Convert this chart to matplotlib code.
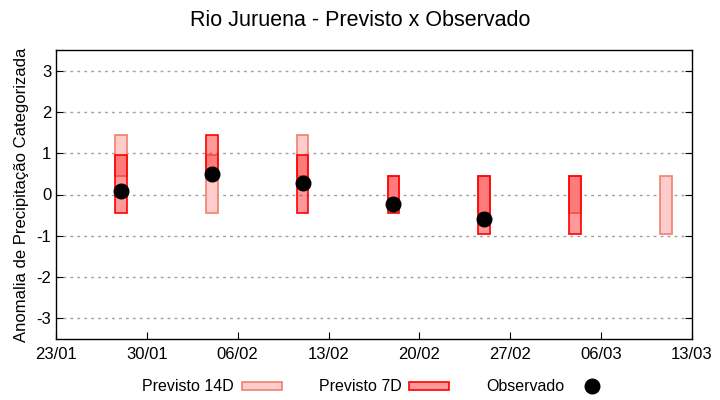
import matplotlib
matplotlib.use("Agg")
import matplotlib.pyplot as plt
import matplotlib.dates as mdates
from matplotlib.patches import Patch
from matplotlib.lines import Line2D
import datetime as dt

plt.rcParams['font.family'] = ['Liberation Sans', 'DejaVu Sans']
plt.rcParams['axes.unicode_minus'] = False

# weekly forecast dates
dates = ["2023-01-28", "2023-02-04", "2023-02-11", "2023-02-18",
         "2023-02-25", "2023-03-04", "2023-03-11"]

# Previsto 14D box limits (None = no box)
p14_low = [0.45, -0.45, 0.45, -0.35, -0.45, -0.45, -0.95]
p14_high = [1.45, 0.95, 1.45, 0.45, 0.45, 0.45, 0.45]

# Previsto 7D box limits
p7_low = [-0.45, 0.45, -0.45, -0.45, -0.95, -0.95, None]
p7_high = [0.95, 1.45, 0.95, 0.45, 0.45, 0.45, None]

# Observado
obs = [0.08, 0.50, 0.28, -0.22, -0.60, None, None]

x_ticks = ["2023-01-23", "2023-01-30", "2023-02-06", "2023-02-13",
           "2023-02-20", "2023-02-27", "2023-03-06", "2023-03-13"]

c14_face = "#ffcccc"
c14_edge = "#f08070"
c7_face = (1.0, 0.0, 0.0, 0.4)
c7_edge = "#ff0000"

fig = plt.figure(figsize=(7.2, 4.0), dpi=100)
ax = fig.add_axes([0.0778, 0.1525, 0.8833, 0.7225])

xd = [mdates.date2num(dt.datetime.strptime(d, "%Y-%m-%d")) for d in dates]
width = 0.9

for x, lo, hi in zip(xd, p14_low, p14_high):
    if lo is None:
        continue
    ax.bar(x, hi - lo, bottom=lo, width=width, color=c14_face,
           edgecolor=c14_edge, linewidth=1.2, zorder=2)

for x, lo, hi in zip(xd, p7_low, p7_high):
    if lo is None:
        continue
    ax.bar(x, hi - lo, bottom=lo, width=width, color=c7_face,
           edgecolor=c7_edge, linewidth=1.2, zorder=3)

ox = [x for x, o in zip(xd, obs) if o is not None]
oy = [o for o in obs if o is not None]
ax.plot(ox, oy, 'o', color='black', markersize=10.5, zorder=4, linestyle='none')

xt = [mdates.date2num(dt.datetime.strptime(d, "%Y-%m-%d")) for d in x_ticks]
ax.set_xlim(xt[0], xt[-1])
ax.set_xticks(xt)
ax.xaxis.set_major_formatter(mdates.DateFormatter("%d/%m"))
ax.set_ylim(-3.5, 3.5)
ax.set_yticks([-3, -2, -1, 0, 1, 2, 3])

ax.grid(axis='y', color='#a0a0a0', linestyle=(0, (2, 3)), linewidth=1, zorder=0)
ax.tick_params(direction='in', length=5, labelsize=12, right=True)
ax.tick_params(axis='x', pad=6, labelsize=12)
for s in ax.spines.values():
    s.set_linewidth(1.0)

ax.set_ylabel("Anomalia de Precipitação Categorizada", fontsize=12, labelpad=5)
fig.suptitle("Rio Juruena - Previsto x Observado", fontsize=15.5, y=0.975)

handles = [
    Patch(facecolor=c14_face, edgecolor=c14_edge, linewidth=1.2),
    Patch(facecolor=c7_face, edgecolor=c7_edge, linewidth=1.2),
    Line2D([], [], marker='o', color='black', markersize=10.5, linestyle='none'),
]
labels = ["Previsto 14D", "Previsto 7D", "Observado"]
fig.legend(handles, labels, loc='center', bbox_to_anchor=(0.524, 0.033), ncol=3,
           frameon=False, markerfirst=False, fontsize=11.5, handlelength=2.5,
           handleheight=0.4, columnspacing=2.3, handletextpad=0.5)

fig.savefig("out.png", dpi=100)
